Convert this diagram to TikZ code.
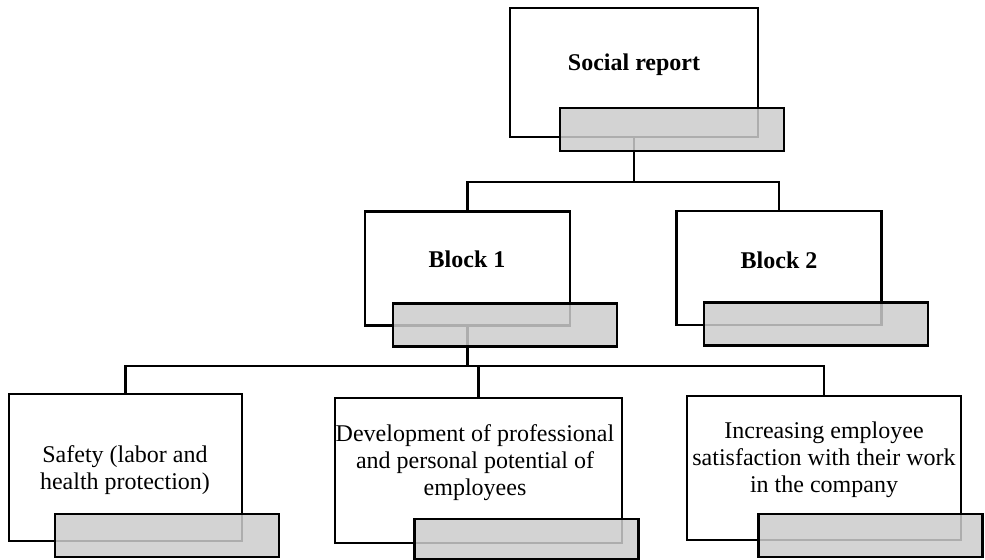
\documentclass[tikz,border=0pt]{standalone}
\usepackage{fontspec}
\setmainfont{Liberation Serif}
\usepackage{tikz}
\usetikzlibrary{positioning}

\begin{document}
\begin{tikzpicture}[x=0.5pt, y=-0.5pt, font=\fontsize{12}{13.5}\selectfont]

% =========================
% Styles
% =========================
\tikzset{
    card/.style={draw, line width=1.1pt, fill=white, inner sep=0pt},
    tab/.style={draw, line width=1.1pt, fill=gray!40, fill opacity=0.85, minimum width=112pt, minimum height=21.5pt, inner sep=0pt},
    txt/.style={align=center, inner sep=0pt},
    link/.style={line width=1.1pt}
}

\useasboundingbox (0,0) rectangle (985,560);

% =========================
% Cards
% =========================
\node[card, minimum width=124pt, minimum height=64.5pt] (report) at (634,72.5) {};
\node[card, minimum width=102.5pt, minimum height=57pt] (block1) at (467.5,268.5) {};
\node[card, minimum width=102.5pt, minimum height=57pt] (block2) at (779,268) {};
\node[card, minimum width=116.5pt, minimum height=73.5pt] (safety) at (125.5,467.5) {};
\node[card, minimum width=143.5pt, minimum height=72.5pt] (devel) at (478.5,470.5) {};
\node[card, minimum width=137pt, minimum height=72pt] (increase) at (824,468) {};

% =========================
% Connectors
% =========================
\coordinate (split1) at (634,182);
\draw[link] (report.south) -- (split1);
\draw[link] (block1.north) |- (split1) -| (block2.north);

\coordinate (split2) at (467.5,366);
\draw[link] (block1.south) -- (split2);
\draw[link] (safety.north) |- (split2) -| (increase.north);
\draw[link] (devel.north) |- (split2);

% =========================
% Grey tabs
% =========================
\node[tab] (reportTab) at (672,129.5) {};
\node[tab] (block1Tab) at (505,325) {};
\node[tab] (block2Tab) at (816,324) {};
\node[tab] (safetyTab) at (167,535.5) {};
\node[tab, minimum height=20pt] (develTab) at (526.5,539) {};
\node[tab] (increaseTab) at (870.5,535.5) {};

% =========================
% Labels
% =========================
\node[txt, font=\fontsize{12}{13.5}\selectfont\bfseries] (reportText) at (634,65) {Social report};
\node[txt, font=\fontsize{12}{13.5}\selectfont\bfseries] (block1Text) at (467,259) {Block 1};
\node[txt, font=\fontsize{12}{13.5}\selectfont\bfseries] (block2Text) at (779,260) {Block 2};
\node[txt] (safetyText) at (125,470) {Safety (labor and\\health protection)};
\node[txt] (develText) at (475,463) {Development of professional\\and personal potential of\\employees};
\node[txt] (increaseText) at (824,460) {Increasing employee\\satisfaction with their work\\in the company};

\end{tikzpicture}
\end{document}
